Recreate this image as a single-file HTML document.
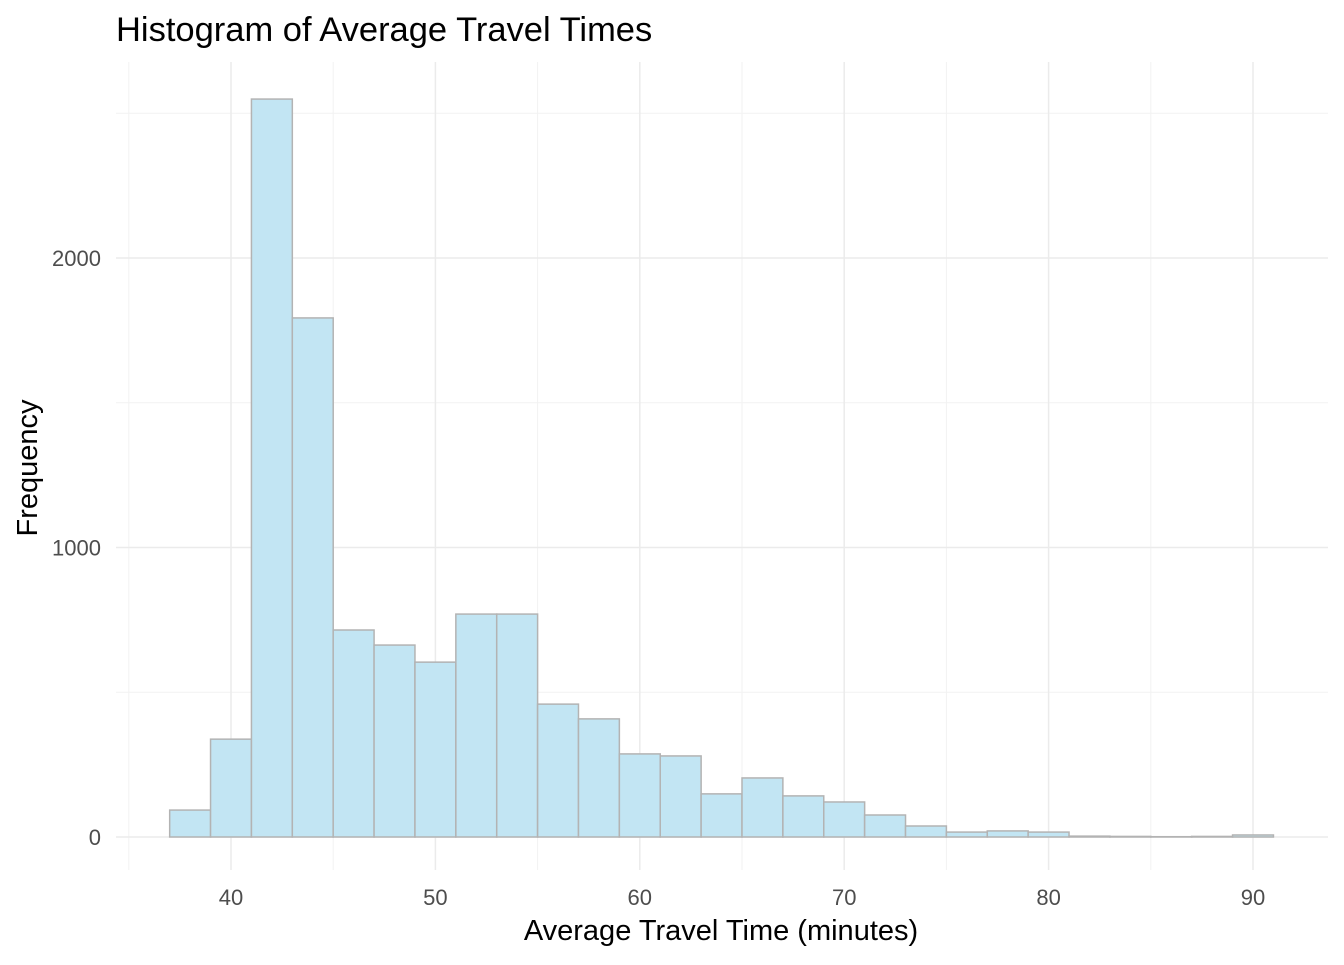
<!DOCTYPE html>
<html><head><meta charset="utf-8"><style>
body{margin:0;background:#fff;}
svg text{font-family:"Liberation Sans",sans-serif;}
</style></head><body>
<svg id="chart" width="1344" height="960">
<text x="116" y="41" fill="#000" style="font-size:34.5px">Histogram of Average Travel Times</text>
<g id="grid"></g>
<g id="bars"></g>
<g id="ticks"></g>
<text x="721" y="940" text-anchor="middle" font-size="29" fill="#000">Average Travel Time (minutes)</text>
<text transform="translate(37,468) rotate(-90)" text-anchor="middle" font-size="29" fill="#000">Frequency</text>
</svg>
<script>
const binStarts=[37,39,41,43,45,47,49,51,53,55,57,59,61,63,65,67,69,71,73,75,77,79,81,83,85,87,89];
const counts=[93,338,2549,1793,715,663,604,770,770,459,408,287,280,149,204,142,121,76,38,17,21,17,3,2,1,2,7];
const binWidth=2;
const xTicks=[40,50,60,70,80,90];
const xMinor=[35,45,55,65,75,85];
const yTicks=[0,1000,2000];
const yMinor=[500,1500,2500];
const ns="http://www.w3.org/2000/svg";
const X=v=>231+(v-40)*20.44;
const Y=v=>837-v*0.2895;
const L=116,R=1328,T=62,B=870;
function mk(tag,attrs,parent){const e=document.createElementNS(ns,tag);for(const k in attrs)e.setAttribute(k,attrs[k]);parent.appendChild(e);return e;}
const grid=document.getElementById('grid'),bars=document.getElementById('bars'),ticks=document.getElementById('ticks');
xMinor.forEach(v=>{const l=mk('line',{x1:X(v),x2:X(v),y1:T,y2:B,stroke:'#f2f2f2','stroke-width':1},grid);

});
yMinor.forEach(v=>{const l=mk('line',{x1:L,x2:R,y1:Y(v),y2:Y(v),stroke:'#f2f2f2','stroke-width':1},grid);

});
xTicks.forEach(v=>{const l=mk('line',{x1:X(v),x2:X(v),y1:T,y2:B,stroke:'#ebebeb','stroke-width':1.5},grid);


const t=mk('text',{x:X(v),y:905,'text-anchor':'middle','font-size':22,fill:'#4d4d4d'},ticks);t.textContent=v;

});
yTicks.forEach(v=>{const l=mk('line',{x1:L,x2:R,y1:Y(v),y2:Y(v),stroke:'#ebebeb','stroke-width':1.5},grid);


const t=mk('text',{x:101,y:Y(v)+8,'text-anchor':'end','font-size':22,fill:'#4d4d4d'},ticks);t.textContent=v;

});
binStarts.forEach((s,i)=>{const x0=X(s),x1=X(s+binWidth),y=Y(counts[i]);
const r=mk('rect',{x:x0,y:y,width:x1-x0,height:Y(0)-y,fill:'#c2e5f3',stroke:'#b3b3b3','stroke-width':1.5},bars);

});
</script>
</body></html>
